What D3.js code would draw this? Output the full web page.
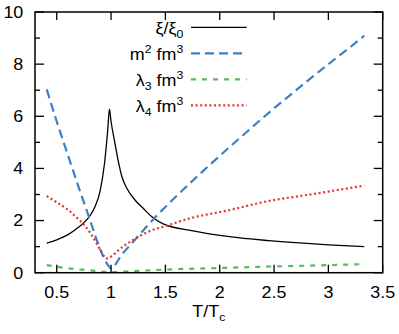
<!DOCTYPE html>
<html>
<head>
<meta charset="utf-8">
<script src="https://cdn.jsdelivr.net/npm/d3@7"></script>
<style>
  body { margin: 0; background: #fff; }
  text { font-family: "Liberation Sans", Arial, sans-serif; fill: #000; }
</style>
</head>
<body>
<svg id="chart" width="399" height="334"></svg>
<script>
// values
var xiT = [0.408, 0.5, 0.6, 0.7, 0.76, 0.8, 0.852, 0.9, 0.94, 0.97, 0.985, 1.0, 1.036, 1.07, 1.1, 1.15, 1.22, 1.3, 1.37, 1.48, 1.73, 2.09, 2.45, 3.0, 3.33];
var xiV = [1.13, 1.26, 1.45, 1.74, 1.96, 2.15, 2.53, 3.15, 4.2, 5.5, 6.27, 5.8, 4.96, 4.2, 3.68, 3.2, 2.79, 2.45, 2.17, 1.87, 1.62, 1.38, 1.23, 1.07, 1.0];

var m2T = [0.408, 0.5, 0.6, 0.7, 0.8, 0.86, 0.92, 0.97, 1.0, 1.1, 1.2, 1.3, 1.4, 1.5, 1.6, 1.8, 2.0, 2.2, 2.4, 2.6, 2.8, 3.0, 3.2, 3.33];
var m2V = [7.03, 5.8, 4.55, 3.3, 2.1, 1.35, 0.7, 0.3, 0.17, 0.7, 1.17, 1.64, 2.1, 2.52, 2.93, 3.72, 4.48, 5.22, 5.95, 6.65, 7.33, 8.0, 8.65, 9.09];

var l3T = [0.408, 0.6, 0.8, 0.95, 1.0, 1.2, 1.5, 2.0, 2.5, 3.0, 3.33];
var l3V = [0.29, 0.17, 0.09, 0.03, 0.02, 0.06, 0.12, 0.18, 0.24, 0.29, 0.33];

var l4T = [0.408, 0.5, 0.607, 0.7, 0.76, 0.86, 0.914, 0.955, 1.0, 1.07, 1.22, 1.37, 1.48, 1.73, 2.09, 2.45, 2.8, 3.1, 3.33];
var l4V = [2.94, 2.7, 2.4, 2.05, 1.8, 1.18, 0.78, 0.55, 0.62, 0.87, 1.3, 1.62, 1.76, 2.09, 2.4, 2.75, 2.98, 3.18, 3.34];

var xTicks = [0.5, 1, 1.5, 2, 2.5, 3, 3.5];
var yTicks = [0, 2, 4, 6, 8, 10];
var yMinor = [1, 3, 5, 7, 9];

var W = 399, H = 334;
var margin = {top: 12, right: 16.3, bottom: 61.3, left: 35};
var svg = d3.select("#chart");

var x = d3.scaleLinear().domain([0.3, 3.5]).range([margin.left, W - margin.right]);
var y = d3.scaleLinear().domain([0, 10]).range([H - margin.bottom, margin.top]);

var series = [
  {T: xiT, V: xiV, color: "#000", width: 1.3, dash: null},
  {T: m2T, V: m2V, color: "#3b80c4", width: 2.2, dash: "9,5"},
  {T: l3T, V: l3V, color: "#5cb85a", width: 2.2, dash: "5,6"},
  {T: l4T, V: l4V, color: "#e8302f", width: 2.2, dash: "2,2.6"}
];

// text scaled a bit wider, like the original figure
function label(g, px, py, anchor) {
  return g.append("text")
    .attr("transform", "translate(" + px + "," + py + ") scale(1.12,1)")
    .attr("text-anchor", anchor)
    .style("font-size", "16px");
}

var line = d3.line()
  .x(function(d) { return x(d[0]); })
  .y(function(d) { return y(d[1]); })
  .curve(d3.curveMonotoneX);

series.forEach(function(s) {
  var pts = s.T.map(function(t, i) { return [t, s.V[i]]; });
  svg.append("path")
    .attr("d", line(pts))
    .attr("fill", "none")
    .attr("stroke", s.color)
    .attr("stroke-width", s.width)
    .attr("stroke-dasharray", s.dash)
    .attr("stroke-linejoin", "round");
});

// frame + ticks (mirrored, pointing inwards)
var x0 = x.range()[0], x1 = x.range()[1], y0 = y.range()[0], y1 = y.range()[1];
var ticks = svg.append("g").attr("stroke", "#000").attr("stroke-width", 1.3);
xTicks.forEach(function(t) {
  ticks.append("line").attr("x1", x(t)).attr("x2", x(t)).attr("y1", y0).attr("y2", y0 - 8);
  ticks.append("line").attr("x1", x(t)).attr("x2", x(t)).attr("y1", y1).attr("y2", y1 + 8);
});
yTicks.concat(yMinor).forEach(function(t) {
  var len = yMinor.indexOf(t) >= 0 ? 5 : 9;
  ticks.append("line").attr("x1", x0).attr("x2", x0 + len).attr("y1", y(t)).attr("y2", y(t));
  ticks.append("line").attr("x1", x1).attr("x2", x1 - len).attr("y1", y(t)).attr("y2", y(t));
});
svg.append("rect")
  .attr("x", x0).attr("y", y1).attr("width", x1 - x0).attr("height", y0 - y1)
  .attr("fill", "none").attr("stroke", "#000").attr("stroke-width", 1.5);

xTicks.forEach(function(t) {
  label(svg, x(t), y0 + 25, "middle").text(t);
});
yTicks.forEach(function(t) {
  label(svg, x0 - 11.7, y(t) + 5.8, "end").text(t);
});

// x axis title T/T_c
var xt = label(svg, (x0 + x1) / 2, 316.7, "middle");
xt.append("tspan").text("T/T");
xt.append("tspan").attr("dy", 4).style("font-size", "11px").text("c");

// legend
var legendRows = [
  {main: "ξ/ξ", sub: "0", sup: null},
  {main: "m", sub: null, sup: "2"},
  {main: "λ", sub: "3", sup: null},
  {main: "λ", sub: "4", sup: null}
];
legendRows.forEach(function(r, i) {
  var ly = 27.3 + i * 26;
  var t = label(svg, 183.3, ly + 7, "end");
  t.append("tspan").text(r.main);
  if (r.sub) t.append("tspan").attr("dy", 4).style("font-size", "11px").text(r.sub);
  if (r.sup) t.append("tspan").attr("dy", -7).style("font-size", "11px").text(r.sup);
  if (i > 0) {
    var back = r.sub ? -4 : 7;
    t.append("tspan").attr("dy", back).text(" fm");
    t.append("tspan").attr("dy", -7).style("font-size", "11px").text("3");
  }
  var s = series[i];
  svg.append("line")
    .attr("x1", 191).attr("x2", 246.7).attr("y1", ly).attr("y2", ly)
    .attr("stroke", s.color).attr("stroke-width", s.width)
    .attr("stroke-dasharray", s.dash);
});
</script>
</body>
</html>
